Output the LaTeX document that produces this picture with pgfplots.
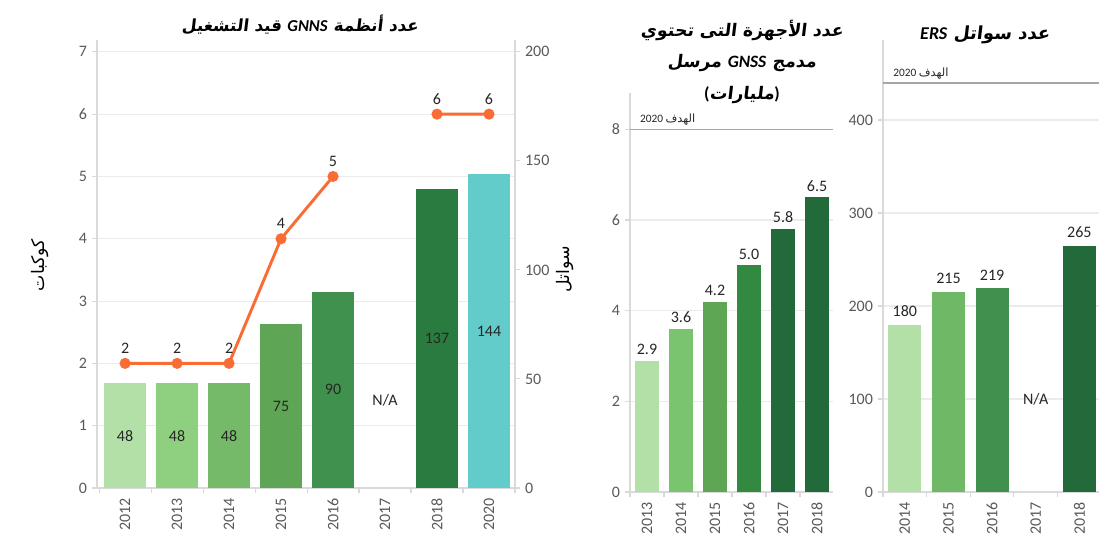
\documentclass[border=0pt]{standalone}
\usepackage{pgfplots}
\pgfplotsset{compat=1.18}
\usepackage{fontspec}
\setmainfont{Carlito}
\newfontfamily\arabicfont[Script=Arabic]{DejaVu Sans}
\newfontfamily\arabictitle[Script=Arabic,FakeSlant=0.12]{DejaVu Sans}
\TeXXeTstate=1
\definecolor{gridc}{HTML}{EBEBEB}
\definecolor{axc}{HTML}{D9D9D9}
\definecolor{tickc}{HTML}{595959}
\definecolor{labc}{HTML}{262626}
\definecolor{tgt}{HTML}{A6A6A6}
\definecolor{orng}{HTML}{F96D35}
\definecolor{ga}{HTML}{B3E0A6}
\definecolor{gb}{HTML}{8ED07F}
\definecolor{gc}{HTML}{74BA69}
\definecolor{gd}{HTML}{5EA655}
\definecolor{ge}{HTML}{41914E}
\definecolor{gf}{HTML}{2A7B40}
\definecolor{tl}{HTML}{62CCCA}
\definecolor{pa}{HTML}{7BC46F}
\definecolor{pb}{HTML}{5EA653}
\definecolor{pc}{HTML}{33893F}
\definecolor{pd}{HTML}{236A3B}
\definecolor{qb}{HTML}{6FB866}
\definecolor{qc}{HTML}{42904E}

\newcommand{\tfont}{\fontsize{12}{14}\selectfont}
\pgfplotsset{
  base/.style={anchor=south west, scale only axis,
    /pgf/number format/assume math mode=true,
    axis line style={draw=axc, line width=0.8pt},
    tick style={draw=axc, line width=0.8pt},
    tick align=outside, major tick length=4pt, minor tick length=4pt,
    ticklabel style={font=\tfont, text=tickc},
    grid style={draw=gridc, line width=0.8pt},
    clip=false},
  catx/.style={axis x line*=bottom,
    major x tick style={draw=none},
    xticklabel style={rotate=90, anchor=east}},
  mybar/.style={ybar, bar width=#1, bar shift=0pt, draw=none},
}

\begin{document}
\begin{tikzpicture}
\useasboundingbox (0,0) rectangle (825.75pt,402.75pt);

% ---------------- Panel 1: background (left axis + grid) ----------------
\begin{axis}[base, catx, at={(72.75pt,36.75pt)}, width=313.5pt, height=336pt,
  xmin=-0.54, xmax=7.5, ymin=0, ymax=7.19,
  axis y line*=left, ytick={0,1,...,7}, ymajorgrids,
  xtick={0,...,7}, xticklabels={2012,2013,2014,2015,2016,2017,2018,2020},
  minor xtick={-0.5,0.5,...,7.5}]
\addplot[draw=none] coordinates {(0,0)};
\end{axis}

% ---------------- Panel 1: bars on right axis ----------------
\begin{axis}[base, at={(72.75pt,36.75pt)}, width=313.5pt, height=336pt,
  xmin=-0.54, xmax=7.5, ymin=0, ymax=205.4,
  axis x line=none, axis y line*=right, ytick={0,50,...,200}]
\addplot[mybar=0.8, fill=ga] coordinates {(0,48)};
\addplot[mybar=0.8, fill=gb] coordinates {(1,48)};
\addplot[mybar=0.8, fill=gc] coordinates {(2,48)};
\addplot[mybar=0.8, fill=gd] coordinates {(3,75)};
\addplot[mybar=0.8, fill=ge] coordinates {(4,90)};
\addplot[mybar=0.8, fill=gf] coordinates {(6,137)};
\addplot[mybar=0.8, fill=tl] coordinates {(7,144)};
\addplot[draw=none, mark=none, nodes near coords, point meta=\thisrow{v},
  every node near coord/.style={anchor=center, font=\tfont, text=labc}]
  table[x=x, y expr=\thisrow{v}/2] {
x v
0 48
1 48
2 48
3 75
4 90
6 137
7 144
};
\node[font=\tfont, text=labc] at (axis cs:5,40) {N/A};
\end{axis}

% ---------------- Panel 1: line on left scale ----------------
\begin{axis}[base, at={(72.75pt,36.75pt)}, width=313.5pt, height=336pt,
  xmin=-0.54, xmax=7.5, ymin=0, ymax=7.19, hide axis, unbounded coords=jump]
\addplot[color=orng, line width=2.2pt, mark=*, mark size=3pt,
  mark options={fill=orng, draw=orng},
  nodes near coords, point meta=y,
  every node near coord/.append style={font=\tfont, text=labc, yshift=3pt}]
  coordinates {(0,2) (1,2) (2,2) (3,4) (4,5) (5,nan) (6,6) (7,6)};
\end{axis}

% ---------------- Panel 2 ----------------
\begin{axis}[base, catx, at={(472.5pt,33.75pt)}, width=152.25pt, height=299.25pt,
  xmin=-0.5, xmax=5.47, ymin=0, ymax=8.8,
  axis y line*=left, ytick={0,2,4,6,8}, ymajorgrids,
  xtick={0,...,5}, xticklabels={2013,2014,2015,2016,2017,2018},
  minor xtick={-0.5,0.5,...,5.5},
  nodes near coords={\pgfmathprintnumber[fixed,fixed zerofill,precision=1]{\pgfplotspointmeta}},
  every node near coord/.append style={font=\tfont, text=labc, yshift=1pt}]
\draw[tgt, line width=1.1pt] (axis cs:-0.5,8) -- (axis cs:5.47,8);
\addplot[mybar=0.72, fill=ga] coordinates {(0,2.9)};
\addplot[mybar=0.72, fill=pa] coordinates {(1,3.6)};
\addplot[mybar=0.72, fill=pb] coordinates {(2,4.2)};
\addplot[mybar=0.72, fill=pc] coordinates {(3,5.0)};
\addplot[mybar=0.72, fill=pd] coordinates {(4,5.8)};
\addplot[mybar=0.72, fill=pd] coordinates {(5,6.5)};
\node[anchor=south west, inner sep=1pt, font=\fontsize{8.5}{10}\selectfont, text=labc]
  at (axis cs:-0.25,8.05) {2020 {\arabicfont\beginR الهدف\endR}};
\end{axis}

% ---------------- Panel 3 ----------------
\begin{axis}[base, catx, at={(662.25pt,33.75pt)}, width=162pt, height=339pt,
  xmin=-0.5, xmax=4.45, ymin=0, ymax=486,
  axis y line*=left, ytick={0,100,...,400}, ymajorgrids,
  xtick={0,...,4}, xticklabels={2014,2015,2016,2017,2018},
  minor xtick={-0.5,0.5,...,4.5},
  nodes near coords,
  every node near coord/.append style={font=\tfont, text=labc, yshift=2.5pt}]
\draw[tgt, line width=1.1pt] (axis cs:-0.5,440) -- (axis cs:4.45,440);
\addplot[mybar=0.76, fill=ga] coordinates {(0,180)};
\addplot[mybar=0.76, fill=qb] coordinates {(1,215)};
\addplot[mybar=0.76, fill=qc] coordinates {(2,219)};
\addplot[mybar=0.76, fill=pd] coordinates {(4,265)};
\node[font=\tfont, text=labc] at (axis cs:3,100) {N/A};
\node[anchor=south west, inner sep=1pt, font=\fontsize{8.5}{10}\selectfont, text=labc]
  at (axis cs:-0.3,442) {2020 {\arabicfont\beginR الهدف\endR}};
\end{axis}

% ---------------- Titles and axis titles ----------------
\node[font=\fontsize{12.5}{15}\selectfont] at (225pt,384pt)
  {\arabictitle\bfseries\beginR عدد أنظمة \beginL{\rmfamily\bfseries\itshape GNNS}\endL{} قيد التشغيل\endR};
\node[font=\fontsize{13}{15}\selectfont] at (556.5pt,380pt)
  {\arabictitle\bfseries\beginR عدد الأجهزة التى تحتوي\endR};
\node[font=\fontsize{13}{15}\selectfont] at (556.5pt,355.5pt)
  {\arabictitle\bfseries\beginR مدمج \beginL{\rmfamily\bfseries\itshape GNSS}\endL{} مرسل\endR};
\node[font=\fontsize{13}{15}\selectfont] at (556.5pt,331.5pt)
  {{\rmfamily\bfseries(}{\arabictitle\bfseries\beginR مليارات\endR}{\rmfamily\bfseries)}};
\node[font=\fontsize{13.5}{15}\selectfont] at (738.75pt,376.5pt)
  {\arabictitle\bfseries\beginR عدد سواتل \beginL{\rmfamily\bfseries\itshape ERS}\endL\endR};

\node[rotate=90, font=\fontsize{13}{15}\selectfont] at (30pt,204pt)
  {\arabicfont\beginR كوكبات\endR};
\node[rotate=90, font=\fontsize{13}{15}\selectfont] at (424pt,201pt)
  {\arabicfont\beginR سواتل\endR};
\end{tikzpicture}
\end{document}
